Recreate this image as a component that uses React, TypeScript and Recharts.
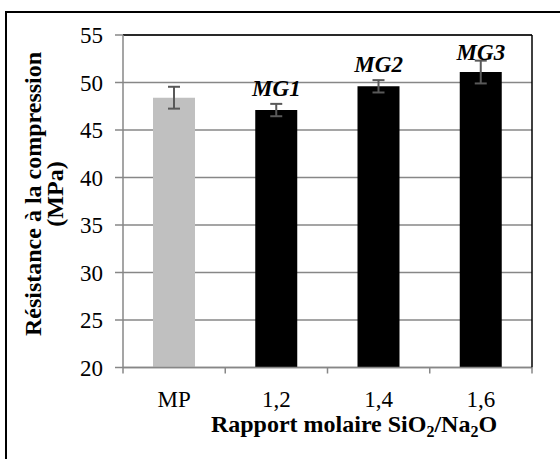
import React from 'react'
import { ComposedChart, Bar, Cell, ErrorBar, Line, LabelList, XAxis, YAxis, CartesianGrid, ReferenceLine } from 'recharts'

const categories = ['MP', '1,2', '1,4', '1,6']
const strength = [48.4, 47.1, 49.6, 51.1]
const errors = [1.15, 0.65, 0.65, 1.2]
const tags = ['', 'MG1', 'MG2', 'MG3']
const barColors = ['#c0c0c0', '#000000', '#000000', '#000000']
const yTicks = [20, 25, 30, 35, 40, 45, 50, 55]

const data = categories.map((c, i) => ({
  name: c,
  v: strength[i],
  err: errors[i],
  top: strength[i] + errors[i],
  tag: tags[i],
}))

const serif = '"Liberation Serif", "Times New Roman", serif'
const W = 560
const H = 459
const plotLeft = 123
const plotRight = 532
const plotTop = 35
const band = (plotRight - plotLeft) / categories.length

function XTick(props: any) {
  const { x, y, payload, index, visibleTicksCount } = props
  const half = band / 2
  return (
    <g>
      <line x1={x - half} y1={y} x2={x - half} y2={y + 6} stroke="#878787" strokeWidth={1.5} />
      {index === visibleTicksCount - 1 && (
        <line x1={x + half} y1={y} x2={x + half} y2={y + 6} stroke="#878787" strokeWidth={1.5} />
      )}
      <text x={x} y={y + 39} textAnchor="middle" fontFamily={serif} fontSize={23} fill="#000">
        {payload.value}
      </text>
    </g>
  )
}

function TagLabel(props: any) {
  const { x, y, value } = props
  if (!value) return null
  const cy = Math.max(y - 16, plotTop + 17)
  return (
    <text x={x} y={cy} dy="0.35em" textAnchor="middle" fontFamily={serif} fontSize={23} fontWeight="bold" fontStyle="italic" fill="#000">
      {value}
    </text>
  )
}

function YTitle() {
  const cy = 194
  return (
    <g fontFamily={serif} fontSize={24} fontWeight="bold" fill="#000">
      <text x={33} y={cy} textAnchor="middle" dominantBaseline="central" transform={`rotate(-90 33 ${cy})`}>
        Résistance à la compression
      </text>
      <text x={55} y={cy} textAnchor="middle" dominantBaseline="central" transform={`rotate(-90 55 ${cy})`}>
        (MPa)
      </text>
    </g>
  )
}

function XTitle() {
  return (
    <text x={354} y={432} textAnchor="middle" fontFamily={serif} fontSize={24} fontWeight="bold" fill="#000">
      Rapport molaire SiO<tspan fontSize={16} dy={5}>2</tspan>
      <tspan dy={-5}>/Na</tspan>
      <tspan fontSize={16} dy={5}>2</tspan>
      <tspan dy={-5}>O</tspan>
    </text>
  )
}

export default function App() {
  return (
    <div style={{ position: 'absolute', left: 0, top: 0, width: W, height: H, overflow: 'hidden', background: '#fff' }}>
      <div style={{ position: 'absolute', left: 5, top: 11, width: 700, height: 700, borderLeft: '2px solid #000', borderTop: '2px solid #000' }} />
      <div style={{ position: 'absolute', left: 0, top: 0 }}>
        <ComposedChart width={W} height={H} data={data} margin={{ top: plotTop, right: 27, bottom: 0, left: 53 }}>
          <CartesianGrid vertical={false} stroke="#878787" strokeWidth={1.3} />
          <XAxis
            dataKey="name"
            height={91.5}
            axisLine={{ stroke: '#878787', strokeWidth: 1.5 }}
            tickLine={false}
            tickSize={0}
            tickMargin={0}
            tick={<XTick />}
            label={{ content: () => <XTitle /> }}
          />
          <YAxis
            domain={[20, 55]}
            ticks={yTicks}
            width={70}
            interval={0}
            axisLine={{ stroke: '#878787', strokeWidth: 1.5 }}
            tickLine={{ stroke: '#878787', strokeWidth: 1.5 }}
            tickSize={8}
            tickMargin={12}
            tick={{ fontFamily: serif, fontSize: 23, fill: '#000' }}
            label={{ content: () => <YTitle /> }}
          />
          <YAxis
            yAxisId="frame"
            orientation="right"
            domain={[20, 55]}
            width={1}
            tick={false}
            tickLine={false}
            axisLine={{ stroke: '#000', strokeWidth: 1.5 }}
          />
          <ReferenceLine y={55} stroke="#000" strokeWidth={1.5} />
          <Bar dataKey="v" barSize={42} isAnimationActive={false}>
            {data.map((d, i) => (
              <Cell key={d.name} fill={barColors[i]} />
            ))}
            <ErrorBar dataKey="err" width={6} stroke="#595959" strokeWidth={2} direction="y" />
          </Bar>
          <Line dataKey="top" stroke="none" dot={false} activeDot={false} isAnimationActive={false}>
            <LabelList dataKey="tag" content={<TagLabel />} />
          </Line>
        </ComposedChart>
      </div>
    </div>
  )
}
